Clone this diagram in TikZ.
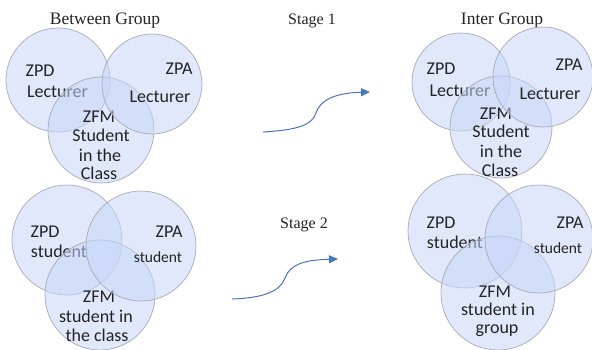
\documentclass[tikz,border=0pt]{standalone}
\usepackage{fontspec}
\setmainfont{Liberation Serif}
\newfontfamily\calib{Carlito}
\usetikzlibrary{arrows.meta}
\definecolor{vennline}{RGB}{165,170,182}
\definecolor{vennfill}{RGB}{200,214,248}
\definecolor{flowblue}{RGB}{70,118,192}
\definecolor{txt}{RGB}{35,35,35}
\begin{document}
\begin{tikzpicture}[x=1pt,y=-1pt,
  venn/.style={circle, inner sep=0pt, draw=vennline, line width=0.7pt,
    fill=vennfill, fill opacity=0.55, minimum size=#1},
  lbl/.style={font=\calib\fontsize{18}{19}\selectfont, text=txt, anchor=base, inner sep=0pt},
  smalllbl/.style={font=\calib\fontsize{15.5}{17}\selectfont, text=txt, anchor=base, inner sep=0pt},
  ttl/.style={font=\fontsize{16}{18}\selectfont, text=txt, anchor=base, inner sep=0pt},
  bigttl/.style={ttl, font=\fontsize{17.5}{19}\selectfont},
  flow/.style={draw=flowblue, line width=1pt, -{Triangle[length=9pt,width=8pt]}}]
\useasboundingbox (0,0) rectangle (592,350);

% titles
\node[bigttl] (t1) at (105,25) {Between Group};
\node[bigttl] (t2) at (502,25) {Inter Group};
\node[ttl] (t3) at (312,25) {Stage 1};
\node[ttl] (t4) at (304,228) {Stage 2};

% ---------- top left ----------
\node[venn=104pt] (tlzpd) at (58,80) {};
\node[lbl] (a1) at (40,77) {ZPD};
\node[lbl] (a2) at (57.5,98) {Lecturer};
\node[venn=106pt] (tlzfm) at (101,130) {};
\node[lbl] (a3) at (99,123) {ZFM};
\node[lbl] (a4) at (101,142) {Student};
\node[lbl] (a5) at (100,161) {in the};
\node[lbl] (a6) at (99,180) {Class};
\node[venn=100pt] (tlzpa) at (152,84) {};
\node[lbl] (a7) at (179,75) {ZPA};
\node[lbl] (a8) at (160,103) {Lecturer};

% ---------- bottom left ----------
\node[venn=110pt] (blzpd) at (67,240) {};
\node[lbl] (b1) at (45,237) {ZPD};
\node[lbl] (b2) at (59,257) {student};
\node[venn=110pt] (blzfm) at (100,295) {};
\node[lbl] (b3) at (99,302) {ZFM};
\node[lbl] (b4) at (96,322) {student in};
\node[lbl] (b5) at (97,341) {the class};
\node[venn=110pt] (blzpa) at (141,246) {};
\node[lbl] (b6) at (169,237) {ZPA};
\node[smalllbl] (b7) at (158,262) {student};

% ---------- top right ----------
\node[venn=98pt] (trzpd) at (461,82) {};
\node[lbl] (c1) at (441,75) {ZPD};
\node[lbl] (c2) at (460,97) {Lecturer};
\node[venn=102pt] (trzfm) at (501,127) {};
\node[lbl] (c3) at (496,120) {ZFM};
\node[lbl] (c4) at (501,138) {Student};
\node[lbl] (c5) at (501,158) {in the};
\node[lbl] (c6) at (500,177) {Class};
\node[venn=100pt] (trzpa) at (543,77) {};
\node[lbl] (c7) at (569,71) {ZPA};
\node[lbl] (c8) at (550,100) {Lecturer};

% ---------- bottom right ----------
\node[venn=114pt] (brzpd) at (465,231) {};
\node[lbl] (d1) at (441,228) {ZPD};
\node[lbl] (d2) at (455,248) {student};
\node[venn=114pt] (brzfm) at (498,293) {};
\node[lbl] (d3) at (495,297) {ZFM};
\node[lbl] (d4) at (498,315) {student in};
\node[lbl] (d5) at (497,333) {group};
\node[venn=108pt] (brzpa) at (539,239) {};
\node[lbl] (d6) at (570,228) {ZPA};
\node[smalllbl] (d7) at (558,253) {student};

% ---------- stage arrows ----------
\coordinate (s1a) at (263,132);
\coordinate (s1m) at (316,113);
\coordinate (s1b) at (370,92);
\draw[flow] (s1a) .. controls (295,130) and (312,126) .. (s1m)
  .. controls (320,100) and (335,93) .. (s1b);
\coordinate (s2a) at (232,299);
\coordinate (s2m) at (285,278);
\coordinate (s2b) at (338,259);
\draw[flow] (s2a) .. controls (262,298) and (280,292) .. (s2m)
  .. controls (290,264) and (305,260) .. (s2b);
\end{tikzpicture}
\end{document}
